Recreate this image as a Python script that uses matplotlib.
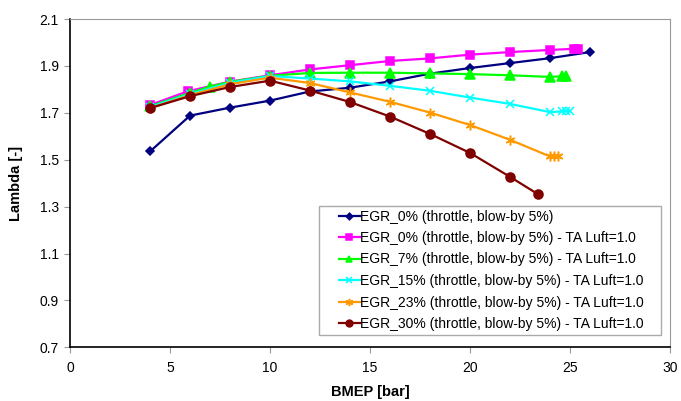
import matplotlib
matplotlib.use("Agg")
import matplotlib.pyplot as plt
from matplotlib.patches import Rectangle

plt.rcParams['font.family'] = ['Liberation Sans', 'DejaVu Sans']

labels = [
    "EGR_0% (throttle, blow-by 5%)",
    "EGR_0% (throttle, blow-by 5%) - TA Luft=1.0",
    "EGR_7% (throttle, blow-by 5%) - TA Luft=1.0",
    "EGR_15% (throttle, blow-by 5%) - TA Luft=1.0",
    "EGR_23% (throttle, blow-by 5%) - TA Luft=1.0",
    "EGR_30% (throttle, blow-by 5%) - TA Luft=1.0",
]

x0 = [4, 6, 8, 10, 12, 14, 16, 18, 20, 22, 24, 26]
y0 = [1.535, 1.688, 1.722, 1.752, 1.791, 1.807, 1.834, 1.867, 1.891, 1.912, 1.933, 1.959]

x1 = [4, 5.9, 8, 10, 12, 14, 16, 18, 20, 22, 24, 25.2, 25.4]
y1 = [1.733, 1.792, 1.833, 1.860, 1.885, 1.903, 1.921, 1.932, 1.948, 1.959, 1.968, 1.973, 1.974]

x2 = [4, 6, 7, 8, 10, 12, 14, 16, 18, 20, 22, 24, 24.6, 24.8]
y2 = [1.728, 1.785, 1.812, 1.832, 1.858, 1.870, 1.871, 1.871, 1.868, 1.865, 1.860, 1.853, 1.856, 1.857]

x3 = [4, 6, 8, 10, 12, 14, 16, 18, 20, 22, 24, 24.6, 24.8, 25.0]
y3 = [1.725, 1.780, 1.828, 1.857, 1.846, 1.834, 1.815, 1.794, 1.765, 1.738, 1.703, 1.706, 1.707, 1.708]

x4 = [4, 6, 8, 10, 12, 14, 16, 18, 20, 22, 24, 24.2, 24.4]
y4 = [1.720, 1.775, 1.822, 1.850, 1.827, 1.787, 1.747, 1.701, 1.648, 1.585, 1.514, 1.514, 1.515]

x5 = [4, 6, 8, 10, 12, 14, 16, 18, 20, 22, 23.4]
y5 = [1.720, 1.771, 1.810, 1.837, 1.795, 1.746, 1.684, 1.610, 1.529, 1.427, 1.353]

xticks = [0, 5, 10, 15, 20, 25, 30]
yticks = [0.7, 0.9, 1.1, 1.3, 1.5, 1.7, 1.9, 2.1]

series = [
    (x0, y0, '#000080', 'D', 4.5),
    (x1, y1, '#FF00FF', 's', 6),
    (x2, y2, '#00FF00', '^', 6.5),
    (x3, y3, '#00FFFF', 'x', 6),
    (x4, y4, '#FF9900', (6, 2, 0), 7),
    (x5, y5, '#800000', 'o', 6.5),
]

W, H = 681, 401
fig = plt.figure(figsize=(W / 100, H / 100), dpi=100)
ax = fig.add_axes([0.1028, 0.1339, 0.8810, 0.8187])

for (xs, ys, c, m, ms), lab in zip(series, labels):
    ax.plot(xs, ys, color=c, marker=m, markersize=ms, linewidth=1.6,
            markeredgecolor=c, markerfacecolor=c, markeredgewidth=1.1, label=lab)

ax.set_xlim(0, 30)
ax.set_ylim(0.7, 2.1)
ax.set_xticks(xticks)
ax.set_yticks(yticks)
ax.set_yticklabels([f"{v:.1f}" for v in yticks])
ax.tick_params(direction='out', length=4, width=0.8, colors='#999999', labelcolor='black',
               labelsize=10, pad=4)
ax.tick_params(axis='x', pad=6)
ax.spines['left'].set_color('black')
ax.spines['bottom'].set_color('black')
ax.spines['left'].set_linewidth(1.2)
ax.spines['bottom'].set_linewidth(1.2)
ax.spines['top'].set_color('#999999')
ax.spines['right'].set_color('#999999')

ax.set_xlabel('BMEP [bar]', fontsize=10.5, fontweight='bold', labelpad=7)
ax.set_ylabel('Lambda [-]', fontsize=10.5, fontweight='bold', labelpad=12)

# legend frame
frame = Rectangle((319 / W, 1 - 335 / H), (661 - 319) / W, (335 - 206) / H,
                  transform=fig.transFigure, facecolor='white', edgecolor='#aaaaaa',
                  linewidth=1.0, zorder=4, clip_on=False)
ax.add_patch(frame)

leg = ax.legend(loc='lower right', bbox_to_anchor=(644 / W, 1 - 331 / H),
                bbox_transform=fig.transFigure, fontsize=10, frameon=False,
                handlelength=1.5, handletextpad=0.05, borderpad=0.0,
                labelspacing=0.54, markerscale=0.75, borderaxespad=0.0)
leg.set_zorder(5)

fig.savefig('out.png', dpi=100)
